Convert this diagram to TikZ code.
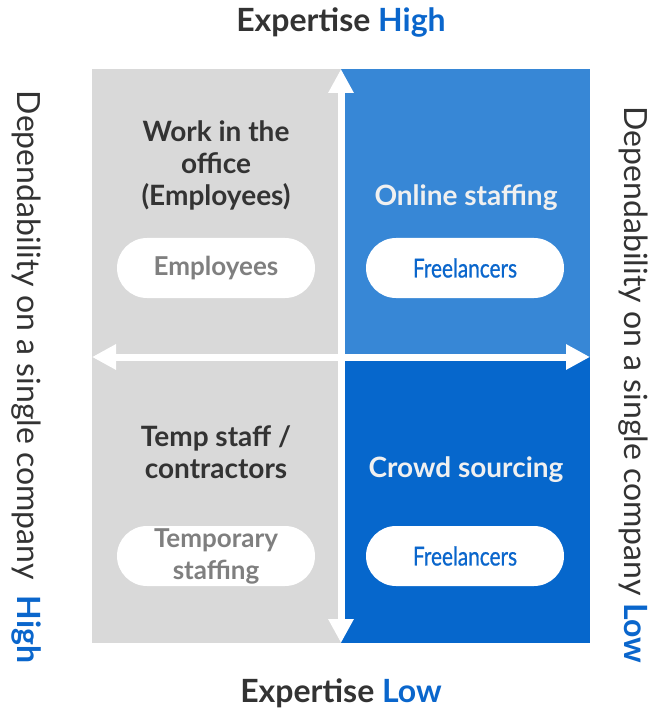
\documentclass[tikz,border=0pt]{standalone}
\usepackage{fontspec}
\setmainfont{Lato}
\newfontfamily\condfont[FakeStretch=0.8,FakeBold=0.8]{Lato}
\usetikzlibrary{arrows.meta,positioning}
\definecolor{quadgray}{HTML}{D9D9D9}
\definecolor{lightblue}{HTML}{3787D6}
\definecolor{darkblue}{HTML}{0667CC}
\definecolor{textblue}{HTML}{0A66CC}
\definecolor{textdark}{HTML}{333333}
\definecolor{pillgray}{HTML}{7F7F7F}
\begin{document}
\begin{tikzpicture}[x=1pt,y=-1pt,
  title/.style={font=\bfseries\fontsize{28}{32}\selectfont, align=center},
  pill/.style={fill=white, rounded corners=30pt, minimum width=198pt,
    minimum height=60pt, inner sep=0pt, align=center},
  pilltext/.style={pill, text=pillgray, font=\bfseries\fontsize{26}{32}\selectfont},
  freetext/.style={pill, text=textblue, font=\condfont\fontsize{26}{30}\selectfont},
  axislabel/.style={text=textdark, font=\fontsize{32}{36}\selectfont, rotate=-90},
  axis/.style={draw=white, line width=7pt,
    {Triangle[length=24pt,width=24pt]}-{Triangle[length=24pt,width=24pt]}}]
\useasboundingbox (0,0) rectangle (658,708);
% the four quadrants
\fill[quadgray] (92,69) rectangle (341,643);
\fill[lightblue] (341,69) rectangle (590,357);
\fill[darkblue] (341,357) rectangle (590,643);
% ends of the two axes
\coordinate (top) at (341,69);
\coordinate (bottom) at (341,643);
\coordinate (left) at (92,357);
\coordinate (right) at (590,357);
\draw[axis] (bottom) -- (top);
\draw[axis] (left) -- (right);
% axis labels
\node[anchor=base, text=textdark, font=\bfseries\fontsize{32}{36}\selectfont]
  (exphigh) at (341,32) {Expertise \textcolor{textblue}{High}};
\node[anchor=base, text=textdark, font=\bfseries\fontsize{32}{36}\selectfont]
  (explow) at (341,702) {Expertise \textcolor{textblue}{Low}};
\node[axislabel] (dephigh) at (26,377)
  {Dependability on a single company\enspace\textbf{\textcolor{textblue}{High}}};
\node[axislabel] (deplow) at (633,385)
  {Dependability on a single company \textbf{\textcolor{textblue}{Low}}};
% quadrant titles
\node[title, text=textdark] (office) at (216,165) {Work in the\\office\\(Employees)};
\node[title, text=white!94!black] (online) at (466,198) {Online staffing};
\node[title, text=textdark] (temp) at (216,452) {Temp staff /\\contractors};
\node[title, text=white!94!black] (crowd) at (466,470) {Crowd sourcing};
% pills
\node[pilltext] (employees) at (216,268) {Employees};
\node[freetext] (free1) at (465,268) {Freelancers};
\node[pilltext] (temporary) at (216,556) {Temporary\\staffing};
\node[freetext] (free2) at (465,556) {Freelancers};
\end{tikzpicture}
\end{document}
